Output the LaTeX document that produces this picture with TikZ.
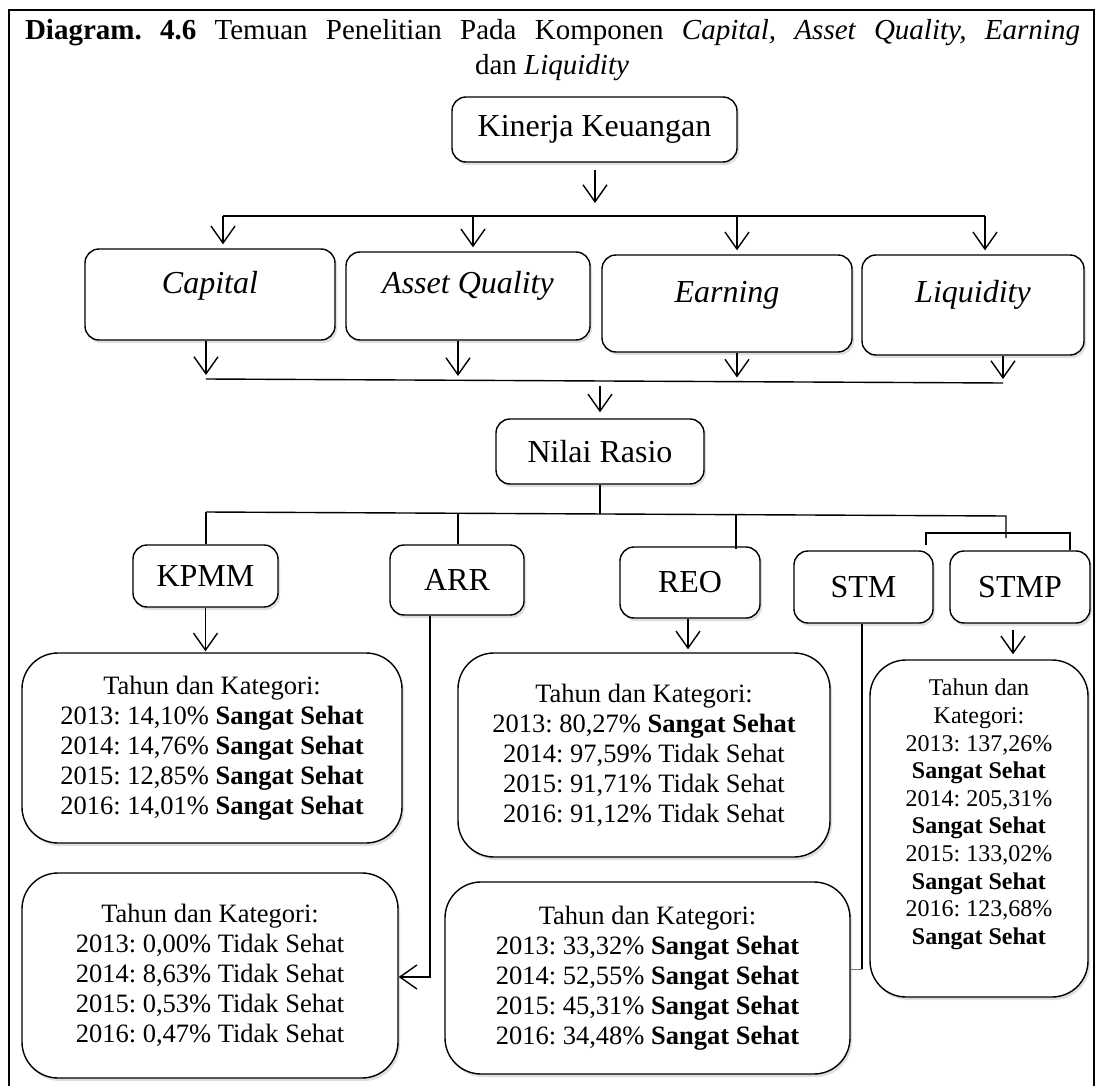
\documentclass[tikz,border=0pt]{standalone}
\usepackage{fontspec}
\setmainfont{Liberation Serif}
\usetikzlibrary{arrows.meta,shadows}
\frenchspacing
\begin{document}
\begin{tikzpicture}[x=1pt,y=-1pt,
  shd/.style={drop shadow={opacity=0.25,shadow xshift=2pt,shadow yshift=-3pt}},
  lbl/.style={draw,line width=1.4pt,rounded corners=14pt,fill=white,shd,inner sep=0pt,font=\fontsize{32}{36}\selectfont},
  comp/.style={lbl,text height=24pt},
  res/.style={draw,line width=1.4pt,rounded corners=36pt,fill=white,shd,inner sep=0pt,align=center,font=\fontsize{26.5}{30}\selectfont},
  ln/.style={line width=1.4pt},
  arr/.style={line width=1.4pt,-{Straight Barb[length=17pt,width=24pt,line width=1.4pt]}},
]
\useasboundingbox (0,0) rectangle (1098,1086);
\fill[white] (0,0) rectangle (1098,1086);
% frame
\draw[line width=1.4pt] (9,1090) -- (9,10) -- (1094,10) -- (1094,1090);
% title
\node[anchor=base,inner sep=0pt,font=\fontsize{29}{33}\selectfont] (t1) at (552.5,40)
  {\makebox[1055pt][s]{\textbf{Diagram. 4.6} Temuan Penelitian Pada Komponen \textit{Capital, Asset Quality, Earning}}};
\node[anchor=base,inner sep=0pt,font=\fontsize{29}{33}\selectfont] (t2) at (552,75) {dan \textit{Liquidity}};

% label boxes
\node[lbl,minimum width=285pt,minimum height=65pt] (kin) at (594.5,129.5) {Kinerja Keuangan};
\node[comp,text depth=27pt,minimum width=250pt,minimum height=91pt] (cap) at (210,294.5) {\textit{Capital}};
\node[comp,text depth=30pt,minimum width=244pt,minimum height=88pt] (aq) at (468,296) {\textit{Asset Quality}};
\node[comp,text depth=27pt,minimum width=250pt,minimum height=97pt] (ear) at (727,303.5) {\textit{Earning}};
\node[comp,text depth=30pt,minimum width=222pt,minimum height=100pt] (liq) at (973,305) {\textit{Liquidity}};
\node[lbl,minimum width=208pt,minimum height=65pt] (nr) at (600,451.5) {Nilai Rasio};
\node[lbl,minimum width=145pt,minimum height=62pt] (kpmm) at (205.5,576) {KPMM};
\node[lbl,minimum width=134pt,minimum height=70pt] (arr) at (457,580) {ARR};
\node[lbl,minimum width=140pt,minimum height=71pt] (reo) at (690,582.5) {REO};
\node[lbl,minimum width=139pt,minimum height=72pt] (stm) at (863.5,587) {STM};
\node[lbl,minimum width=140pt,minimum height=72pt] (stmp) at (1020,587) {STMP};

% result boxes
\node[res,minimum width=380pt,minimum height=190pt] (kres) at (212,748)
  {Tahun dan Kategori:\\2013: 14,10\% \textbf{Sangat Sehat}\\2014: 14,76\% \textbf{Sangat Sehat}\\2015: 12,85\% \textbf{Sangat Sehat}\\2016: 14,01\% \textbf{Sangat Sehat}};
\node[res,minimum width=372pt,minimum height=204pt] (rres) at (644,755)
  {Tahun dan Kategori:\\2013: 80,27\% \textbf{Sangat Sehat}\\2014: 97,59\% Tidak Sehat\\2015: 91,71\% Tidak Sehat\\2016: 91,12\% Tidak Sehat};
\node[res,minimum width=218pt,minimum height=337pt,font=\fontsize{24}{27.6}\selectfont] (sres) at (979,828.5)
  {Tahun dan\\Kategori:\\2013: 137,26\%\\\textbf{Sangat Sehat}\\2014: 205,31\%\\\textbf{Sangat Sehat}\\2015: 133,02\%\\\textbf{Sangat Sehat}\\2016: 123,68\%\\\textbf{Sangat Sehat}\\[6pt]};
\node[res,minimum width=376pt,minimum height=205pt] (ares) at (210,975.5)
  {Tahun dan Kategori:\\2013: 0,00\% Tidak Sehat\\2014: 8,63\% Tidak Sehat\\2015: 0,53\% Tidak Sehat\\2016: 0,47\% Tidak Sehat};
\node[res,minimum width=405pt,minimum height=192pt] (mres) at (647.5,978)
  {Tahun dan Kategori:\\2013: 33,32\% \textbf{Sangat Sehat}\\2014: 52,55\% \textbf{Sangat Sehat}\\2015: 45,31\% \textbf{Sangat Sehat}\\2016: 34,48\% \textbf{Sangat Sehat}};

% connectors: top
\coordinate (a0) at (595,170);
\coordinate (a1) at (595,203);
\draw[arr] (a0) -- (a1);
\coordinate (b1) at (223,216);
\coordinate (b2) at (473,216);
\coordinate (b3) at (737,216);
\coordinate (b4) at (985,216);
\draw[ln] (b1) -- (b4);
\draw[arr,shorten >=4pt] (b1) -- (b1 |- cap.north);
\draw[arr,shorten >=4pt] (b2) -- (b2 |- aq.north);
\draw[arr,shorten >=4pt] (b3) -- (b3 |- ear.north);
\draw[arr,shorten >=4pt] (b4) -- (b4 |- liq.north);
% connectors: middle
\coordinate (c1) at (206,379);
\coordinate (c2) at (458,380);
\coordinate (c3) at (737,381.5);
\coordinate (c4) at (1003,383);
\draw[ln] (c1) -- (c4);
\draw[arr,shorten >=4pt] (c1 |- cap.south) -- (c1);
\draw[arr,shorten >=4pt] (c2 |- aq.south) -- (c2);
\draw[arr,shorten >=4pt] (c3 |- ear.south) -- (c3);
\draw[arr,shorten >=4pt] (c4 |- liq.south) -- (c4);
\coordinate (d0) at (600,386);
\draw[arr,shorten >=6pt] (d0) -- (d0 |- nr.north);
% connectors: ratio bus
\coordinate (e0) at (600,514);
\coordinate (e1) at (206,512);
\coordinate (e2) at (458,513.5);
\coordinate (e3) at (736,515);
\coordinate (e5) at (1006,516);
\coordinate (e6) at (1006,538);
\draw[ln] (nr.south) -- (e0);
\draw[ln] (e1) -- (e5) -- (e6);
\draw[ln] (e1) -- (e1 |- kpmm.north);
\draw[ln] (e2) -- (e2 |- arr.north);
\draw[ln] (e3) -- ([yshift=-3pt]e3 |- reo.north);
\coordinate (f1) at (926,533);
\coordinate (f2) at (1070,533);
\draw[ln] ([yshift=5pt]f1 |- stm.north) -- (f1) -- (f2) -- (f2 |- stmp.north);
% connectors: to results
\draw[arr,shorten >=1pt] (kpmm.south) -- (kpmm.south |- kres.north);
\draw[arr,shorten >=3pt] ([xshift=-2pt]reo.south) -- ([xshift=-2pt]reo.south |- rres.north);
\coordinate (g1) at (1013,630);
\draw[arr,shorten >=5pt] (g1) -- (g1 |- sres.north);
\coordinate (h1) at (430,977);
\draw[arr] (arr.south -| h1) -- (h1) -- (ares.east |- h1);
\coordinate (i1) at (862,969);
\draw[ln] (stm.south -| i1) -- (i1);
\draw[line width=1pt,color={rgb,255:red,79;green,129;blue,189}] (i1) -- (mres.east |- i1);
\end{tikzpicture}
\end{document}
